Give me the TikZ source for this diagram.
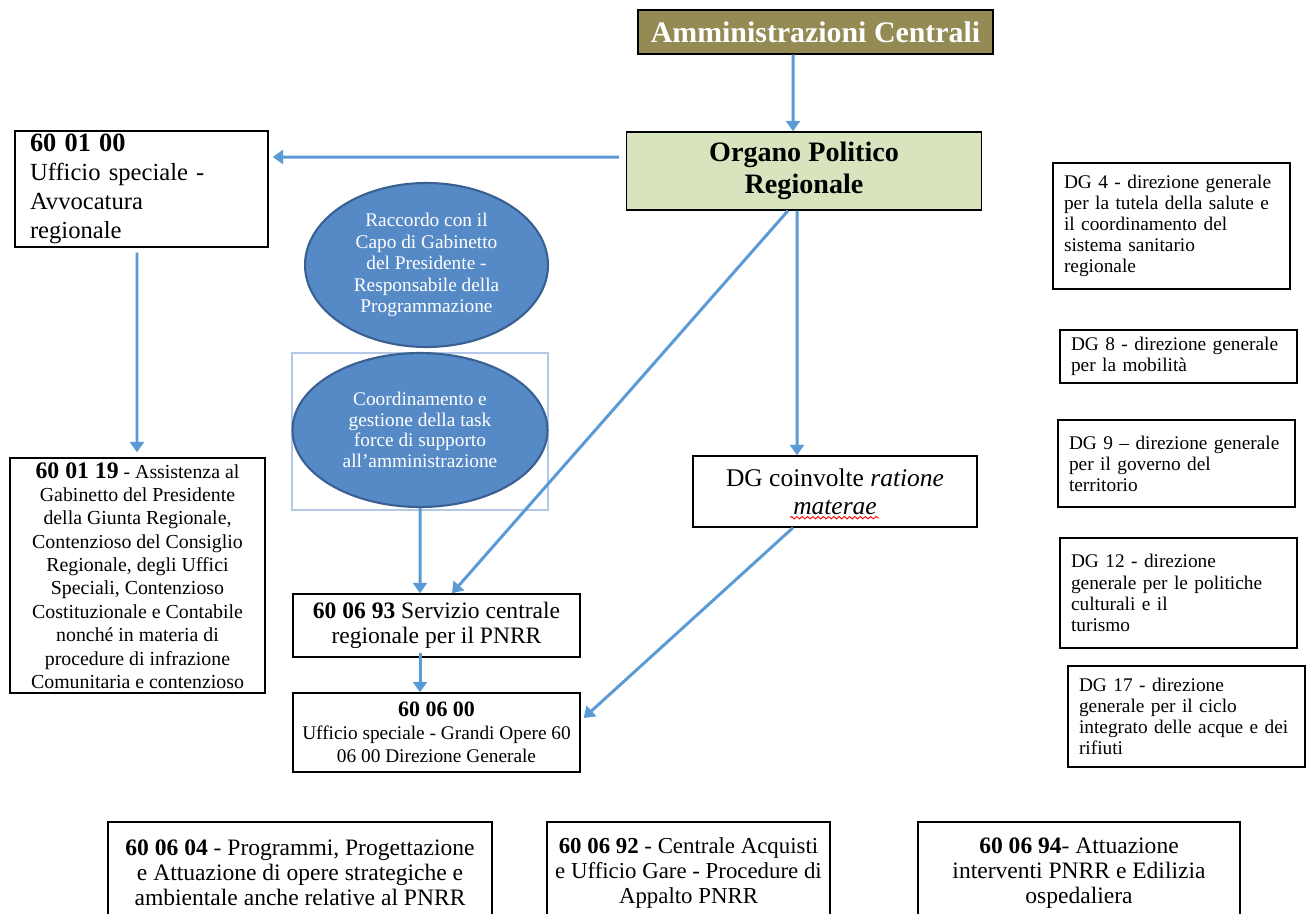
\documentclass[tikz,border=0pt]{standalone}
\usepackage{fontspec}
\setmainfont{Liberation Serif}
\usetikzlibrary{arrows.meta,shapes.geometric,decorations.pathmorphing}
\definecolor{arrblue}{RGB}{91,155,213}
\definecolor{ammfill}{RGB}{148,138,84}
\definecolor{orgfill}{RGB}{215,228,189}
\definecolor{ovalfill}{RGB}{86,138,198}
\definecolor{ovalline}{RGB}{58,96,145}
\definecolor{framecol}{RGB}{180,199,231}

\begin{document}
\begin{tikzpicture}[x=0.02cm,y=-0.02cm,
  box/.style={draw,line width=0.8pt,inner sep=0pt,align=center},
  dgbox/.style={draw,line width=0.8pt,inner xsep=0.22cm,inner ysep=0pt,text width=4.3cm,align=left,font=\fontsize{11}{12}\selectfont},
  oval/.style={ellipse,draw=ovalline,line width=1.2pt,fill=ovalfill,text=white,inner sep=0pt,align=center,font=\fontsize{11}{12.2}\selectfont},
  arr/.style={draw=arrblue,line width=1.7pt,-{Triangle[length=6pt,width=8pt]}}]

\useasboundingbox (0,0) rectangle (1310,913);
\clip (0,0) rectangle (1310,913);

%top
\node[box,fill=ammfill,text=white,minimum width=7.1cm,minimum height=0.88cm,font=\bfseries\fontsize{17}{20}\selectfont] (amm) at (815.5,32) {Amministrazioni Centrali};
\node[box,fill=orgfill,minimum width=7.1cm,minimum height=1.56cm,font=\bfseries\fontsize{16}{18}\selectfont] (org) at (804,171) {Organo Politico\\Regionale};

%left column
\node[box,inner xsep=0.3cm,text width=4.46cm,align=left,minimum height=2.32cm,font=\fontsize{14}{16.4}\selectfont] (a00) at (141.5,189) {\textbf{\fontsize{15}{16.4}\selectfont 60 01 00}\\Ufficio speciale -\\Avvocatura\\regionale};
\node[box,minimum width=5.1cm,minimum height=4.7cm,font=\fontsize{11.3}{13.3}\selectfont] (a19) at (137.5,575.5) {\textbf{\fontsize{13.5}{13.3}\selectfont 60 01 19} - Assistenza al\\Gabinetto del Presidente\\della Giunta Regionale,\\Contenzioso del Consiglio\\Regionale, degli Uffici\\Speciali, Contenzioso\\Costituzionale e Contabile\\nonché in materia di\\procedure di infrazione\\Comunitaria e contenzioso};

%ovals
\node[oval,minimum width=4.86cm,minimum height=3.28cm] (e1) at (426.5,265) {Raccordo con il\\Capo di Gabinetto\\del Presidente -\\Responsabile della\\Programmazione};
\node[draw=framecol,line width=0.8pt,minimum width=5.12cm,minimum height=3.14cm] (frm) at (420,431.5) {};
\node[oval,minimum width=5.1cm,minimum height=3.08cm,font=\fontsize{11}{11.8}\selectfont] (e2) at (420,430) {Coordinamento e\\gestione della task\\force di supporto\\all'amministrazione};

%centre
\node[box,minimum width=5.74cm,minimum height=1.26cm,font=\fontsize{13.4}{14.5}\selectfont] (s93) at (436.5,625.5) {\textbf{60 06 93} Servizio centrale\\regionale per il PNRR};
\node[box,minimum width=5.74cm,minimum height=1.58cm,font=\fontsize{11}{13}\selectfont] (s00) at (436.5,732.5) {\textbf{\fontsize{12.5}{13}\selectfont 60 06 00}\\Ufficio speciale - Grandi Opere 60\\06 00 Direzione Generale};
\node[box,minimum width=5.68cm,minimum height=1.42cm,font=\fontsize{14.5}{16}\selectfont] (dgc) at (835,491.5) {DG coinvolte \textit{ratione}\\\textit{materae}};
\draw[red,line width=0.5pt,decorate,decoration={snake,amplitude=0.7pt,segment length=3pt}] ([xshift=-0.9cm,yshift=0.2cm]dgc.south) -- ([xshift=0.88cm,yshift=0.2cm]dgc.south);

%DG on the right
\node[dgbox,minimum height=2.52cm] (dg4) at (1171.5,226) {DG 4 - direzione generale\\per la tutela della salute e\\il coordinamento del\\sistema sanitario\\regionale};
\node[dgbox,minimum height=1.06cm] (dg8) at (1178.5,356.5) {DG 8 - direzione generale\\per la mobilità};
\node[dgbox,minimum height=1.74cm] (dg9) at (1176.5,463.5) {DG 9 – direzione generale\\per il governo del\\territorio};
\node[dgbox,minimum height=2.2cm] (dg12) at (1178.5,593) {DG 12 - direzione\\generale per le politiche\\culturali e il\\turismo};
\node[dgbox,minimum height=2.02cm] (dg17) at (1186.5,716.5) {DG 17 - direzione\\generale per il ciclo\\integrato delle acque e dei\\rifiuti};

%bottom row (cut at the lower edge)
\node[box,minimum width=7.68cm,minimum height=2.04cm,font=\fontsize{13.4}{14.2}\selectfont] (b04) at (300,873) {\textbf{60 06 04} - Programmi, Progettazione\\e Attuazione di opere strategiche e\\ambientale anche relative al PNRR};
\node[box,minimum width=5.66cm,minimum height=2.04cm,font=\fontsize{13}{14.2}\selectfont] (b92) at (688.5,873) {\textbf{60 06 92} - Centrale Acquisti\\e Ufficio Gare - Procedure di\\Appalto PNRR};
\node[box,minimum width=6.44cm,minimum height=2.04cm,font=\fontsize{13.4}{14.2}\selectfont] (b94) at (1079,873) {\textbf{60 06 94}- Attuazione\\interventi PNRR e Edilizia\\ospedaliera};

%arrows
\draw[arr] ([xshift=-0.45cm]amm.south) -- ([xshift=-0.22cm]org.north);
\draw[arr] ([xshift=-0.14cm,yshift=0.28cm]org.west) -- ([xshift=0.08cm,yshift=0.64cm]a00.east);
\draw[arr] ([xshift=-0.09cm,yshift=-0.1cm]a00.south) -- ([xshift=-0.01cm,yshift=0.1cm]a19.north);
\draw[arr] ([xshift=-0.32cm]org.south) -- ([xshift=0.31cm]s93.north);
\draw[arr] ([xshift=-0.14cm]org.south) -- ([xshift=-0.76cm]dgc.north);
\draw[arr] (e2.south) -- ([xshift=-0.33cm]s93.north);
\draw[arr] ([xshift=-0.84cm]dgc.south) -- ([xshift=0.06cm,yshift=0.29cm]s00.east);
\draw[arr] ([xshift=-0.33cm,yshift=0.1cm]s93.south) -- ([xshift=-0.33cm]s00.north);
\end{tikzpicture}
\end{document}
